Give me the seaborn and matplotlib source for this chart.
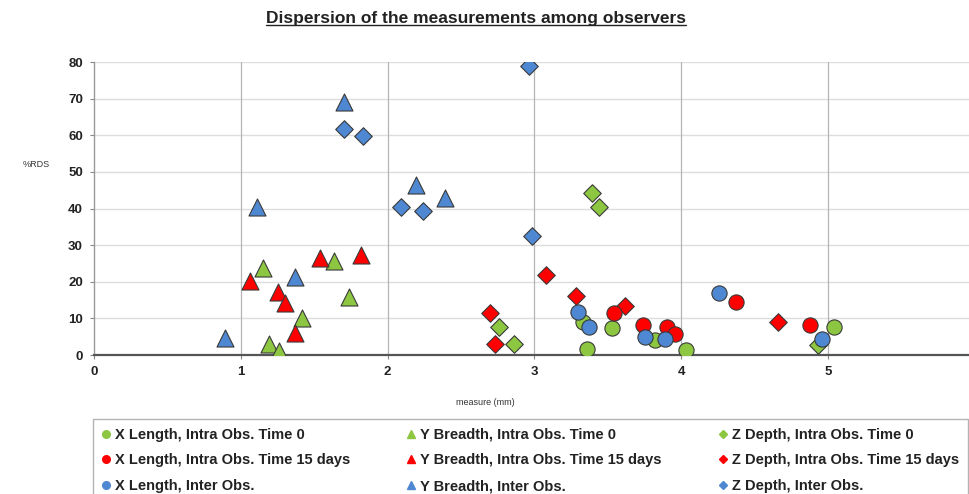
import matplotlib
matplotlib.use("Agg")
import matplotlib.pyplot as plt
from matplotlib.lines import Line2D
import seaborn as sns
import pandas as pd

# Measurement dispersion (%RDS) against measured size (mm)
x_len_t0_mm = [3.33, 3.36, 3.53, 3.82, 4.03, 5.04]
x_len_t0_rds = [9.1, 1.6, 7.5, 4.1, 1.4, 7.7]
x_len_t15_mm = [3.54, 3.74, 3.90, 3.96, 4.37, 4.88]
x_len_t15_rds = [11.4, 8.2, 7.7, 5.7, 14.6, 8.2]
x_len_inter_mm = [3.30, 3.37, 3.75, 3.89, 4.26, 4.96]
x_len_inter_rds = [11.7, 7.7, 4.8, 4.3, 17.0, 4.5]

y_br_t0_mm = [1.15, 1.19, 1.26, 1.42, 1.635, 1.74]
y_br_t0_rds = [23.7, 3.0, 1.2, 10.0, 25.8, 15.8]
y_br_t15_mm = [1.06, 1.25, 1.30, 1.37, 1.54, 1.82]
y_br_t15_rds = [20.3, 17.1, 14.1, 5.9, 26.4, 27.3]
y_br_inter_mm = [0.89, 1.11, 1.37, 1.70, 2.19, 2.39]
y_br_inter_rds = [4.7, 40.5, 21.4, 69.2, 46.3, 42.8]

z_dp_t0_mm = [2.76, 2.86, 3.39, 3.44, 4.93]
z_dp_t0_rds = [7.6, 3.0, 44.2, 40.3, 2.7]
z_dp_t15_mm = [2.70, 2.73, 3.08, 3.28, 3.62, 4.66]
z_dp_t15_rds = [11.6, 2.9, 21.9, 16.0, 13.3, 9.1]
z_dp_inter_mm = [1.70, 1.83, 2.09, 2.24, 2.96, 2.98]
z_dp_inter_rds = [61.7, 59.8, 40.5, 39.3, 79.0, 32.5]

series_labels = [
    "X Length, Intra Obs. Time 0",
    "X Length, Intra Obs. Time 15 days",
    "X Length, Inter Obs.",
    "Y Breadth, Intra Obs. Time 0",
    "Y Breadth, Intra Obs. Time 15 days",
    "Y Breadth, Inter Obs.",
    "Z Depth, Intra Obs. Time 0",
    "Z Depth, Intra Obs. Time 15 days",
    "Z Depth, Inter Obs.",
]
x_ticks = [0, 1, 2, 3, 4, 5]
y_ticks = [0, 10, 20, 30, 40, 50, 60, 70, 80]

GREEN, RED, BLUE = "#8DC641", "#FF0000", "#4F88D2"

series_data = [
    (x_len_t0_mm, x_len_t0_rds), (x_len_t15_mm, x_len_t15_rds), (x_len_inter_mm, x_len_inter_rds),
    (y_br_t0_mm, y_br_t0_rds), (y_br_t15_mm, y_br_t15_rds), (y_br_inter_mm, y_br_inter_rds),
    (z_dp_t0_mm, z_dp_t0_rds), (z_dp_t15_mm, z_dp_t15_rds), (z_dp_inter_mm, z_dp_inter_rds),
]
colors = [GREEN, RED, BLUE] * 3
markers = ["o"] * 3 + ["^"] * 3 + ["D"] * 3
sizes = [120] * 3 + [150] * 3 + [80] * 3

frames = []
for lab, (xs, ys) in zip(series_labels, series_data):
    frames.append(pd.DataFrame({"measure": xs, "rds": ys, "series": lab}))
df = pd.concat(frames, ignore_index=True)

sns.set_theme(style="white")
plt.rcParams["font.family"] = ["Liberation Sans", "DejaVu Sans"]

fig = plt.figure(figsize=(9.69, 4.94), dpi=100)
ax = fig.add_axes([94 / 969, 1 - 355 / 494, 1 - 94 / 969, (355 - 62) / 494])

# depth first, then breadth, then length on top
draw_order = [6, 7, 8, 3, 4, 5, 0, 1, 2]
for i in draw_order:
    sub = df[df["series"] == series_labels[i]]
    sns.scatterplot(data=sub, x="measure", y="rds", ax=ax, color=colors[i],
                    marker=markers[i], s=sizes[i], edgecolor="#3a3a3a",
                    linewidth=0.8, legend=False, zorder=3)

ax.set_xlim(0, 5.96)
ax.set_ylim(0, 80)
ax.set_xticks(x_ticks)
ax.set_yticks(y_ticks)
ax.set_xticklabels([str(t) for t in x_ticks], fontsize=9.5, fontweight="bold", color="#222222")
ax.set_yticklabels([str(t) for t in y_ticks], fontsize=9.5, fontweight="bold", color="#222222")
ax.tick_params(axis="both", which="major", length=3, width=0.8, color="#888888",
               direction="out", pad=5, bottom=True, left=True)

ax.grid(axis="y", color="#dddddd", linewidth=1.0)
for xv in x_ticks[1:]:
    ax.axvline(xv, color="#b5b5b5", linewidth=0.9, zorder=1)
ax.set_axisbelow(True)

for side in ["top", "right"]:
    ax.spines[side].set_visible(False)
ax.spines["left"].set_color("#999999")
ax.spines["left"].set_linewidth(1.0)
ax.spines["bottom"].set_color("#555555")
ax.spines["bottom"].set_linewidth(1.6)
ax.set_xlabel("")
ax.set_ylabel("")

fig.text(36 / 969, 1 - 164 / 494, "%RDS", fontsize=6.5, ha="center", va="center", color="#333333")
fig.text(485 / 969, 1 - 402 / 494, "measure (mm)", fontsize=6.5, ha="center", va="center", color="#333333")

title = fig.text(476 / 969, 1 - 18 / 494, "Dispersion of the measurements among observers",
                 fontsize=12.5, fontweight="bold", ha="center", va="center", color="#222222")

handles = [Line2D([0], [0], marker=markers[i], color="none", markerfacecolor=colors[i],
                  markeredgecolor=colors[i], markersize=5.5 if markers[i] != "D" else 4.5)
           for i in range(9)]
leg = fig.legend(handles, series_labels, ncol=3, loc="upper left",
                 bbox_to_anchor=(93 / 969, 1 - 419 / 494), frameon=True, fancybox=False,
                 edgecolor="#a0a0a0", prop={"size": 10.5, "weight": "bold"},
                 handlelength=0.6, handletextpad=0.3, columnspacing=3.9,
                 labelspacing=0.8, borderpad=0.6, borderaxespad=0)
leg.get_frame().set_linewidth(1.0)
for t in leg.get_texts():
    t.set_color("#222222")

# underline the title
fig.canvas.draw()
bb = title.get_window_extent().transformed(fig.transFigure.inverted())
fig.add_artist(Line2D([bb.x0, bb.x1], [bb.y0 + 0.002, bb.y0 + 0.002],
                      transform=fig.transFigure, color="#222222", linewidth=1.0))

fig.savefig("out.png", dpi=100)
